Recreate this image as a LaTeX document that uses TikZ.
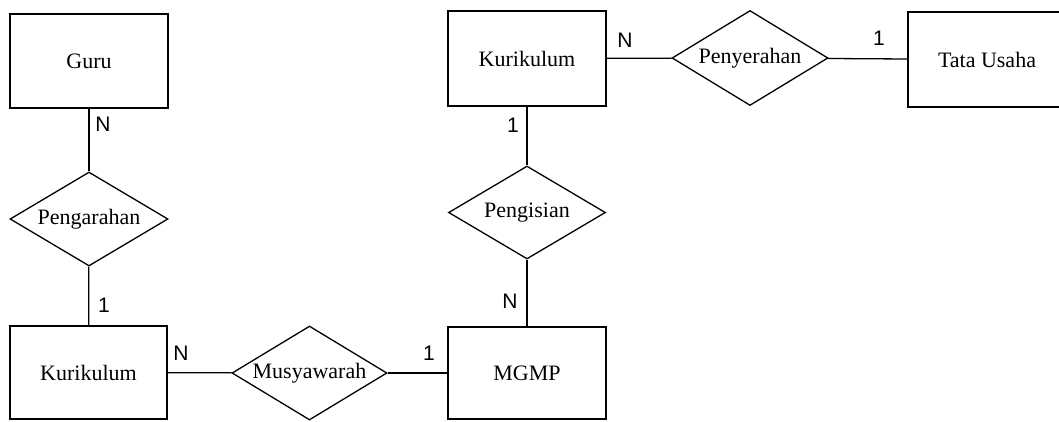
\documentclass[tikz,border=0pt]{standalone}
\usepackage{fontspec}
\setmainfont{Liberation Serif}
\newfontfamily\cardfont{Liberation Sans}
\usetikzlibrary{shapes.geometric}

\tikzset{
  erfont/.style={font=\fontsize{22}{24}\selectfont},
  entity/.style={draw, line width=1.3pt, rectangle, inner sep=0pt, erfont},
  relation/.style={draw, line width=1.3pt, diamond, inner sep=0pt,
    label={[erfont, inner sep=0pt]center:#1}},
  link/.style={line width=1.3pt},
  card/.style={inner sep=0pt, font=\cardfont\fontsize{21}{22}\selectfont}
}

\begin{document}
\begin{tikzpicture}[x=1pt, y=-1pt]
  \useasboundingbox (0,0) rectangle (1059,421);
  \clip (0,0) rectangle (1059,421);
  \fill[white] (0,0) rectangle (1059,421);

  % entities
  \node[entity, minimum width=158pt, minimum height=94pt] (guru) at (89,61) {Guru};
  \node[entity, minimum width=157pt, minimum height=93pt] (kurA) at (88.5,372.5) {Kurikulum};
  \node[entity, minimum width=158pt, minimum height=95pt] (kurB) at (527,58.5) {Kurikulum};
  \node[entity, minimum width=158pt, minimum height=95pt] (tata) at (987,59.5) {Tata Usaha};
  \node[entity, minimum width=158pt, minimum height=92pt] (mgmp) at (527,373) {MGMP};

  % relationships (empty diamonds, names set as centred labels)
  \node[relation=Pengarahan, minimum width=158pt, minimum height=94pt] (arah) at (89,219) {};
  \node[relation=Pengisian, minimum width=157pt, minimum height=93pt] (isi) at (527,212.5) {};
  \node[relation=Penyerahan, minimum width=156pt, minimum height=95pt] (serah) at (750,58) {};
  \node[relation=Musyawarah, minimum width=155pt, minimum height=94pt] (musy) at (309.5,373) {};

  % connectors
  \draw[link] (guru) -- (arah);
  \draw[link] (arah) -- (kurA);
  \draw[link] (kurA) -- (musy);
  \draw[link] (musy) -- (mgmp);
  \draw[link] (mgmp) -- (isi);
  \draw[link] (isi) -- (kurB);
  \draw[link] (kurB) -- (serah);
  \draw[link] (serah) -- (tata);

  % cardinalities
  \node[card] (c1) at (103,124) {N};
  \node[card] (c2) at (104,305) {1};
  \node[card] (c3) at (181,353) {N};
  \node[card] (c4) at (429,353) {1};
  \node[card] (c5) at (510,301) {N};
  \node[card] (c6) at (513,125) {1};
  \node[card] (c7) at (625,40) {N};
  \node[card] (c8) at (879,38) {1};
\end{tikzpicture}
\end{document}
